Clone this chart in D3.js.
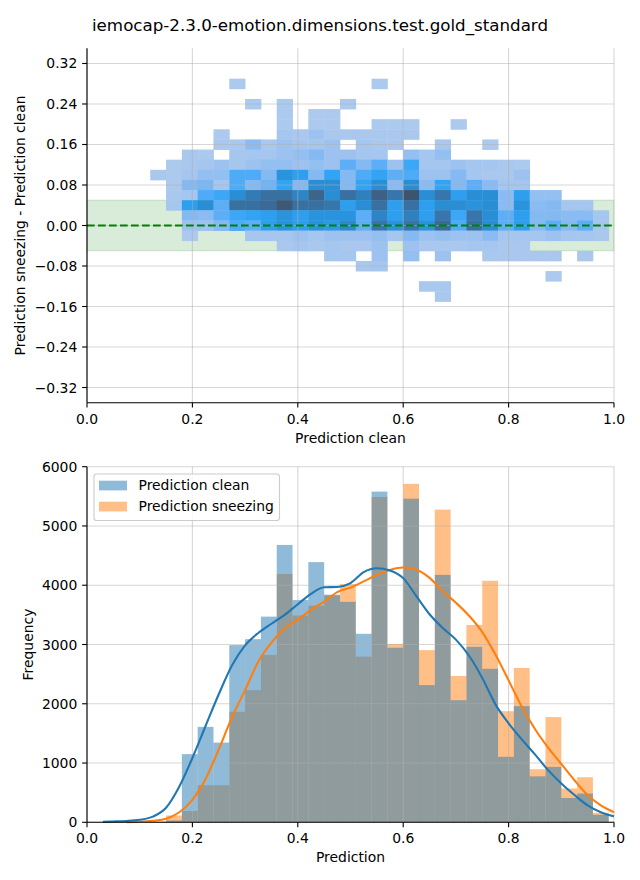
<!DOCTYPE html>
<html><head><meta charset="utf-8">
<script src="https://cdn.jsdelivr.net/npm/d3@7"></script>
<style>body{margin:0;background:#fff} text{font-family:"DejaVu Sans",sans-serif;fill:#000}</style>
</head><body><svg id="c" width="640" height="880"></svg>
<script>
// ---------------- data ----------------
const title = "iemocap-2.3.0-emotion.dimensions.test.gold_standard";
const binStart = 0.12, binWidth = 0.03, nBins = 29;          // x bins (shared)
const yBinCenters = [0.28,0.26,0.24,0.22,0.20,0.18,0.16,0.14,0.12,0.10,0.08,0.06,0.04,0.02,0.00,-0.02,-0.04,-0.06,-0.08,-0.10,-0.12,-0.14];
const yBinHeight = 0.02;
// 2D histogram counts (rows follow yBinCenters, columns follow x bins)
const heatCounts = [
 [0,0,0,0,0,1,0,0,0,0,0,0,0,0,1,0,0,0,0,0,0,0,0,0,0,0,0,0,0],
 [0,0,0,0,0,0,0,0,0,0,0,0,0,0,0,0,0,0,0,0,0,0,0,0,0,0,0,0,0],
 [0,0,0,0,0,0,1,0,1,0,0,0,1,0,0,0,0,0,0,0,0,0,0,0,0,0,0,0,0],
 [0,0,0,0,0,0,0,0,1,0,1,1,0,0,0,0,0,0,0,0,0,0,0,0,0,0,0,0,0],
 [0,0,0,0,0,0,0,0,1,0,1,1,0,0,1,1,1,0,0,1,0,0,0,0,0,0,0,0,0],
 [0,0,0,0,1,0,0,0,4,2,7,2,2,2,2,2,2,0,0,0,0,0,0,0,0,0,0,0,0],
 [0,0,0,0,2,2,13,2,7,4,4,7,0,4,2,2,0,0,2,0,0,1,0,0,0,0,0,0,0],
 [0,0,2,1,0,4,4,4,7,10,15,7,7,4,4,0,10,4,10,0,0,0,0,0,0,0,0,0,0],
 [0,1,2,4,7,4,7,10,10,7,10,7,25,15,25,7,31,4,4,7,4,4,2,1,0,0,0,0,0],
 [2,1,4,10,10,28,28,15,47,38,15,34,15,28,34,25,28,7,7,15,4,2,2,7,0,0,0,0,0],
 [0,1,15,18,4,28,15,20,34,15,51,51,15,34,51,13,51,13,34,15,25,13,4,4,0,0,0,0,0],
 [0,2,4,28,31,51,66,75,75,58,84,51,75,62,88,70,98,51,70,38,51,51,13,38,10,10,0,0,0],
 [0,4,38,51,25,75,75,80,94,75,75,70,38,51,75,38,75,38,51,51,47,51,13,47,13,15,4,4,0],
 [0,0,15,13,25,31,34,38,47,38,47,47,47,25,58,38,62,38,70,31,70,51,25,38,15,15,13,13,4],
 [0,0,7,7,15,28,25,38,47,38,47,42,55,25,70,47,70,47,80,28,75,51,25,38,15,25,15,25,4],
 [0,0,1,0,0,0,4,4,4,7,4,7,7,7,10,4,15,7,10,7,7,13,4,4,4,7,4,4,2],
 [0,0,0,0,0,0,0,0,2,4,2,4,2,2,7,0,7,2,2,2,4,4,2,2,0,0,0,0,0],
 [0,0,0,0,0,0,0,0,0,0,0,4,4,0,7,0,10,0,7,0,0,2,2,2,2,2,0,2,0],
 [0,0,0,0,0,0,0,0,0,0,0,0,0,2,4,0,0,0,0,0,0,0,0,0,0,0,0,0,0],
 [0,0,0,0,0,0,0,0,0,0,0,0,0,0,0,0,0,0,0,0,0,0,0,0,0,1,0,0,0],
 [0,0,0,0,0,0,0,0,0,0,0,0,0,0,0,0,0,2,2,0,0,0,0,0,0,0,0,0,0],
 [0,0,0,0,0,0,0,0,0,0,0,0,0,0,0,0,0,0,2,0,0,0,0,0,0,0,0,0,0]
];
const histClean    = [10,30,1150,1610,1345,2990,3090,3470,4680,3750,4390,3840,3720,3180,5580,2945,5460,2315,4175,2060,2960,2590,1105,1960,775,935,410,485,125];
const histSneezing = [5,115,190,625,625,1865,2230,2825,4190,3490,3655,3830,4020,2795,5490,3010,5710,2905,5275,2470,3330,4075,1875,2605,895,1775,570,760,160];
const kdeX        = [0.03,0.05,0.075,0.10,0.125,0.15,0.175,0.20,0.225,0.25,0.275,0.30,0.325,0.35,0.375,0.40,0.425,0.45,0.475,0.50,0.525,0.55,0.575,0.60,0.625,0.65,0.675,0.70,0.725,0.75,0.775,0.80,0.825,0.85,0.875,0.90,0.925,0.95,0.975,1.00];
const kdeClean    = [10,14,22,42,95,245,600,1085,1625,2160,2645,2985,3195,3350,3500,3680,3855,3965,3970,4035,4222,4288,4250,4120,3815,3510,3278,3082,2810,2435,1990,1670,1398,1145,880,655,460,285,170,100];
const kdeSneezing = [null,null,3,8,25,60,170,380,730,1230,1770,2230,2710,3030,3270,3420,3585,3725,3885,3960,4065,4175,4259,4299,4262,4125,3900,3705,3485,3210,2830,2395,1950,1575,1260,985,710,460,285,170];
const xTicks = [0,0.2,0.4,0.6,0.8,1.0];
const diffTicks = [-0.32,-0.24,-0.16,-0.08,0,0.08,0.16,0.24,0.32];
const freqTicks = [0,1000,2000,3000,4000,5000,6000];
const seriesNames = ["Prediction clean","Prediction sneezing"];

// ---------------- HUSL colormap (seaborn style from C0) ----------------
const M=[[3.2406,-1.5372,-0.4986],[-0.9689,1.8758,0.0415],[0.0557,-0.2040,1.0570]];
const Mi=[[0.4124,0.3576,0.1805],[0.2126,0.7152,0.0722],[0.0193,0.1192,0.9505]];
const refU=0.19784, refV=0.46834, kap=903.3, eps=0.008856;
function maxChroma(L,H){const hr=H*Math.PI/180,s=Math.sin(hr),c=Math.cos(hr);const sub1=Math.pow(L+16,3)/1560896;const sub2=sub1>eps?sub1:L/kap;let r=Infinity;
 for(const [m1,m2,m3] of M){const top=(0.99915*m1+1.05122*m2+1.14460*m3)*sub2;const rb=0.86330*m3-0.17266*m2;const lb=0.12949*m3-0.38848*m1;const bot=(rb*s+lb*c)*sub2;
  for(const t of [0,1]){const C=L*(top-1.05122*t)/(bot+0.17266*s*t);if(C>0&&C<r)r=C;}}return r;}
function huslToRgb(H,S,L){const C=maxChroma(L,H)/100*S,hr=H*Math.PI/180,U=C*Math.cos(hr),V=C*Math.sin(hr);
 const t=(L+16)/116;const Y=Math.pow(t,3)>eps?Math.pow(t,3):L/kap;const vu=U/(13*L)+refU,vv=V/(13*L)+refV;
 const X=-(9*Y*vu)/((vu-4)*vv-vu*vv);const Z=(9*Y-15*vv*Y-vv*X)/(3*vv);
 return M.map(r=>{let c=r[0]*X+r[1]*Y+r[2]*Z;c=c<=0.0031308?12.92*c:1.055*Math.pow(c,1/2.4)-0.055;return Math.max(0,Math.min(1,c));});}
function rgbToHusl(rgb){const lin=rgb.map(c=>c>0.04045?Math.pow((c+0.055)/1.055,2.4):c/12.92);
 const [X,Y,Z]=Mi.map(r=>r[0]*lin[0]+r[1]*lin[1]+r[2]*lin[2]);const d=X+15*Y+3*Z;const vu=4*X/d,vv=9*Y/d;
 const L=Y>eps?116*Math.cbrt(Y)-16:kap*Y;const U=13*L*(vu-refU),V=13*L*(vv-refV);
 const C=Math.hypot(U,V);let H=Math.atan2(V,U)*180/Math.PI;if(H<0)H+=360;return [H,C/maxChroma(L,H)*100,L];}
const seed=rgbToHusl([0x1f/255,0x77/255,0xb4/255]);
const cmapColors=(function(){const out=[];const n=Math.floor(1.15*256);
 for(let i=0;i<256;i++){const xx=-1+2*i/(n-1);const rgb=huslToRgb(seed[0],seed[1]*Math.cos(xx),35+45*i/255);
  out.push(d3.rgb(rgb[0]*255,rgb[1]*255,rgb[2]*255).formatHex());}return out.reverse();})();
const nz=heatCounts.flat().filter(v=>v>0);const vmin=d3.min(nz),vmax=d3.max(nz);
function cmap(v){let t=(v-vmin)/(vmax-vmin);let i=Math.floor(t*256);i=Math.max(0,Math.min(255,i));return cmapColors[i];}

// ---------------- drawing ----------------
const svg=d3.select("#c");
const FS=13.9;
svg.append("text").attr("x",320).attr("y",31).attr("text-anchor","middle").style("font-size","16.7px").text(title);

const L=87,R=614;
const grid={stroke:"#b0b0b0",op:0.5,w:1.1};
function axisLeft(g,scale,ticks,fmt){
  ticks.forEach(t=>{const y=scale(t);
    g.append("line").attr("x1",L-4.9).attr("x2",L).attr("y1",y).attr("y2",y).attr("stroke","#000").attr("stroke-width",1.1);
    g.append("text").attr("x",L-9.7).attr("y",y+5).attr("text-anchor","end").style("font-size",FS+"px").text(fmt(t));});
}
function axisBottom(g,scale,ticks,y0,fmt){
  ticks.forEach(t=>{const x=scale(t);
    g.append("line").attr("x1",x).attr("x2",x).attr("y1",y0).attr("y2",y0+4.9).attr("stroke","#000").attr("stroke-width",1.1);
    g.append("text").attr("x",x).attr("y",y0+20.8).attr("text-anchor","middle").style("font-size",FS+"px").text(fmt(t));});
}
const minus=s=>s.replace("-","\u2212");

// ----- top panel -----
const T1=48.3,B1=402.7;
const x1=d3.scaleLinear().domain([0,1]).range([L,R]);
const y1=d3.scaleLinear().domain([-0.35,0.35]).range([B1,T1]);
const g1=svg.append("g");
// band
g1.append("rect").attr("x",L).attr("width",R-L).attr("y",y1(0.05)).attr("height",y1(-0.05)-y1(0.05))
  .attr("fill","rgb(0,128,0)").attr("fill-opacity",0.15).attr("stroke","rgb(0,128,0)").attr("stroke-opacity",0.15).attr("stroke-width",1.1);
// cells
const cells=[];
heatCounts.forEach((row,ri)=>row.forEach((v,ci)=>{if(v>0)cells.push({x0:binStart+ci*binWidth,yc:yBinCenters[ri],v});}));
g1.selectAll("rect.cell").data(cells).join("rect").attr("class","cell")
  .attr("x",d=>x1(d.x0)).attr("width",d=>x1(d.x0+binWidth)-x1(d.x0)+0.4)
  .attr("y",d=>y1(d.yc+yBinHeight/2)).attr("height",d=>y1(d.yc-yBinHeight/2)-y1(d.yc+yBinHeight/2)+0.4)
  .attr("fill",d=>cmap(d.v));
// grid
xTicks.forEach(t=>g1.append("line").attr("x1",x1(t)).attr("x2",x1(t)).attr("y1",T1).attr("y2",B1).attr("stroke",grid.stroke).attr("stroke-opacity",grid.op).attr("stroke-width",grid.w));
diffTicks.forEach(t=>g1.append("line").attr("x1",L).attr("x2",R).attr("y1",y1(t)).attr("y2",y1(t)).attr("stroke",grid.stroke).attr("stroke-opacity",grid.op).attr("stroke-width",grid.w));
// zero line
g1.append("line").attr("x1",L).attr("x2",R).attr("y1",y1(0)).attr("y2",y1(0)).attr("stroke","#008000").attr("stroke-width",2.08).attr("stroke-dasharray","7.7,3.3");
// spines
g1.append("line").attr("x1",L).attr("x2",L).attr("y1",T1).attr("y2",B1).attr("stroke","#000").attr("stroke-width",1.1);
g1.append("line").attr("x1",L).attr("x2",R).attr("y1",B1).attr("y2",B1).attr("stroke","#000").attr("stroke-width",1.1);
axisLeft(g1,y1,diffTicks,t=>minus(d3.format(".2f")(t)));
axisBottom(g1,x1,xTicks,B1,t=>d3.format(".1f")(t));
g1.append("text").attr("x",(L+R)/2).attr("y",443).attr("text-anchor","middle").style("font-size",FS+"px").text("Prediction clean");
g1.append("text").attr("transform",`translate(25,${(T1+B1)/2}) rotate(-90)`).attr("text-anchor","middle").style("font-size",FS+"px").text("Prediction sneezing - Prediction clean");

// ----- bottom panel -----
const T2=466.7,B2=822.3;
const x2=d3.scaleLinear().domain([0,1]).range([L,R]);
const y2=d3.scaleLinear().domain([0,6000]).range([B2,T2]);
const g2=svg.append("g");
const bins=d3.range(nBins).map(i=>binStart+i*binWidth);
function bars(vals,color){
  g2.append("g").selectAll("rect").data(vals).join("rect")
   .attr("x",(d,i)=>x2(bins[i])).attr("width",(d,i)=>x2(bins[i]+binWidth)-x2(bins[i]))
   .attr("y",d=>y2(d)).attr("height",d=>B2-y2(d)).attr("fill",color).attr("fill-opacity",0.5);
}
bars(histSneezing,"#ff7f0e");
bars(histClean,"#1f77b4");
xTicks.forEach(t=>g2.append("line").attr("x1",x2(t)).attr("x2",x2(t)).attr("y1",T2).attr("y2",B2).attr("stroke",grid.stroke).attr("stroke-opacity",grid.op).attr("stroke-width",grid.w));
freqTicks.forEach(t=>g2.append("line").attr("x1",L).attr("x2",R).attr("y1",y2(t)).attr("y2",y2(t)).attr("stroke",grid.stroke).attr("stroke-opacity",grid.op).attr("stroke-width",grid.w));
const line=(vals)=>d3.line().defined((d,i)=>vals[i]!=null).x((d,i)=>x2(kdeX[i])).y((d,i)=>y2(vals[i])).curve(d3.curveMonotoneX)(kdeX);
g2.append("path").attr("d",line(kdeSneezing)).attr("fill","none").attr("stroke","#ff7f0e").attr("stroke-width",2.08);
g2.append("path").attr("d",line(kdeClean)).attr("fill","none").attr("stroke","#1f77b4").attr("stroke-width",2.08);
g2.append("line").attr("x1",L).attr("x2",L).attr("y1",T2).attr("y2",B2).attr("stroke","#000").attr("stroke-width",1.1);
g2.append("line").attr("x1",L).attr("x2",R).attr("y1",B2).attr("y2",B2).attr("stroke","#000").attr("stroke-width",1.1);
axisLeft(g2,y2,freqTicks,t=>String(t));
axisBottom(g2,x2,xTicks,B2,t=>d3.format(".1f")(t));
g2.append("text").attr("x",(L+R)/2).attr("y",862).attr("text-anchor","middle").style("font-size",FS+"px").text("Prediction");
g2.append("text").attr("transform",`translate(33,${(T2+B2)/2}) rotate(-90)`).attr("text-anchor","middle").style("font-size",FS+"px").text("Frequency");
// legend
const lg=g2.append("g");
lg.append("rect").attr("x",94).attr("y",474).attr("width",185.5).attr("height",46.5).attr("rx",2.8)
  .attr("fill","#fff").attr("fill-opacity",0.8).attr("stroke","#cccccc").attr("stroke-width",1.1);
[["#1f77b4",480.7,490],["#ff7f0e",501.7,511]].forEach((d,i)=>{
  lg.append("rect").attr("x",99).attr("y",d[1]).attr("width",28).attr("height",9.7).attr("fill",d[0]).attr("fill-opacity",0.5);
  lg.append("text").attr("x",138.5).attr("y",d[2]).style("font-size",FS+"px").text(seriesNames[i]);
});
</script></body></html>
